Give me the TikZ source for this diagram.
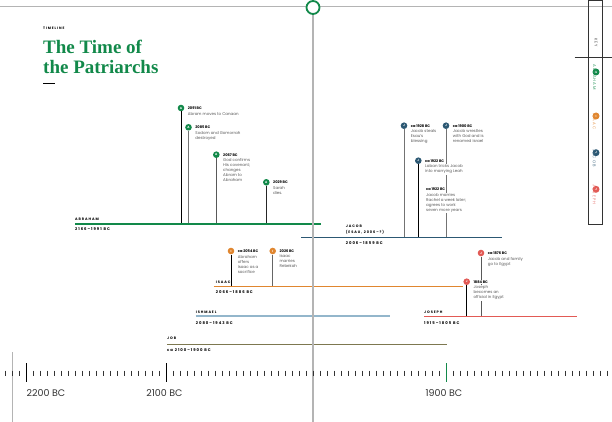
\documentclass[tikz,border=0pt]{standalone}
\usepackage{fontspec}
\setsansfont{Poppins}
\newfontfamily\spacedsf[LetterSpace=26]{Poppins}
\newfontfamily\titleserif{Liberation Serif}
\usetikzlibrary{positioning}

\definecolor{abgreen}{HTML}{12894A}
\definecolor{isorange}{HTML}{E0862F}
\definecolor{jcblue}{HTML}{2C5873}
\definecolor{ishblue}{HTML}{93B6CB}
\definecolor{jobolive}{HTML}{7D7850}
\definecolor{jored}{HTML}{E25A55}
\definecolor{rulegray}{HTML}{B4B4B4}
\definecolor{textgray}{HTML}{5A5A5A}

\tikzset{
  evdot/.style={circle,fill=#1,inner sep=0pt,minimum size=6.6pt,text=white,
    font=\sffamily\bfseries\fontsize{3}{3}\selectfont},
  evdate/.style={inner sep=0.7pt,fill=white,
    font=\sffamily\bfseries\fontsize{3.6}{4}\selectfont},
  evtext/.style={inner sep=0.7pt,fill=white,align=left,text=textgray,
    font=\sffamily\fontsize{4}{5}\selectfont},
  stem/.style={line width=0.9pt,draw=#1},
  life/.style={line width=1.1pt,draw=#1},
  pname/.style={anchor=base west,inner sep=0pt,
    font=\spacedsf\bfseries\fontsize{3.5}{4.6}\selectfont},
  pdate/.style={anchor=base west,inner sep=0pt,
    font=\spacedsf\bfseries\fontsize{3.8}{4.6}\selectfont},
  keyname/.style={rotate=-90,anchor=west,inner sep=0pt,
    font=\spacedsf\fontsize{4}{4.5}\selectfont},
  titleline/.style={anchor=base west,inner sep=0pt,text=abgreen,
    font=\titleserif\bfseries\fontsize{19}{21}\selectfont},
  yearlab/.style={inner sep=0pt,text=black!80,font=\sffamily\fontsize{9.5}{10}\selectfont},
}

\begin{document}
\begin{tikzpicture}[x=1pt,y=-1pt]
  \useasboundingbox (0,0) rectangle (612,422);

  % frame and key
  \draw[rulegray,line width=0.8pt] (0,6) -- (612,6);
  \draw[rulegray,line width=0.8pt] (12,352) -- (12,422);
  \draw[black!80,line width=0.7pt] (588.3,0) rectangle (602.7,224);
  \draw[black!80,line width=0.7pt] (574.7,57.3) -- (612,57.3);
  \node[keyname,text=black!70] (keyhead) at (596,38) {KEY};
  \node[evdot=abgreen,minimum size=7pt] (k1) at (596,72) {A};
  \node[evdot=isorange,minimum size=7pt] (k2) at (596,116) {I};
  \node[evdot=jcblue,minimum size=7pt] (k3) at (596,152.7) {J};
  \node[evdot=jored,minimum size=7pt] (k4) at (596,189.3) {J};
  \node[keyname,text=abgreen!85,below=1.5pt of k1.south] (k1n) {ABRAHAM};
  \node[keyname,text=isorange!85,below=1.5pt of k2.south] (k2n) {ISAAC};
  \node[keyname,text=jcblue!85,below=1.5pt of k3.south] (k3n) {JACOB};
  \node[keyname,text=jored!85,below=1.5pt of k4.south] (k4n) {JOSEPH};

  % title
  \node[anchor=base west,inner sep=0pt,font=\spacedsf\bfseries\fontsize{3.4}{4}\selectfont] (kicker) at (43,29.5) {TIMELINE};
  \node[titleline] (title1) at (43,54) {The Time of};
  \node[titleline] (title2) at (43,73.3) {the Patriarchs};
  \draw[black,line width=0.9pt] (43,83.3) -- (55,83.3);

  % lifelines
  \coordinate (abS) at (75,224);    \coordinate (abE) at (321,224);
  \coordinate (jcS) at (301,237.7); \coordinate (jcE) at (502,237.7);
  \coordinate (isS) at (213.6,286.7); \coordinate (isE) at (463,286.7);
  \coordinate (ishS) at (195.7,316); \coordinate (ishE) at (390,316);
  \coordinate (joS) at (424,316.7); \coordinate (joE) at (577,316.7);
  \coordinate (jbS) at (167,344.3); \coordinate (jbE) at (446.7,344.3);

  % event dots
  \node[evdot=abgreen] (ab1) at (181,108) {A};
  \node[evdot=abgreen] (ab2) at (188.5,127.3) {A};
  \node[evdot=abgreen] (ab3) at (216.3,154.7) {A};
  \node[evdot=abgreen] (ab4) at (266.3,182.3) {A};
  \node[evdot=jcblue] (jc1) at (404,125.7) {J};
  \node[evdot=jcblue] (jc2) at (446,125.7) {J};
  \node[evdot=jcblue] (jc3) at (418.3,160.7) {J};
  \node[evdot=isorange] (is1) at (231,251) {I};
  \node[evdot=isorange] (is2) at (272.7,251) {I};
  \node[evdot=jored] (jo1) at (481,253) {J};
  \node[evdot=jored] (jo2) at (466.7,281.7) {J};

  % stems
  \draw[stem=black] (ab1) -- (ab1 |- abS);
  \draw[stem=black!55] (ab2) -- (ab2 |- abS);
  \draw[stem=black!65] (ab3) -- (ab3 |- abS);
  \draw[stem=black!85] (ab4) -- (ab4 |- abS);
  \draw[stem=black!55] (jc1) -- (jc1 |- jcS);
  \draw[stem=black!55] (jc2) -- (jc2 |- jcS);
  \draw[stem=black] (jc3) -- (jc3 |- jcS);
  \draw[stem=black] (is1) -- (is1 |- isS);
  \draw[stem=black!60] (is2) -- (is2 |- isS);
  \draw[stem=black!65] (jo1) -- (jo1 |- joS);
  \draw[stem=black] (jo2) -- (jo2 |- joS);

  % event texts
  \node[evdate,right=2.5pt of ab1] (ab1d) {2091 BC};
  \node[evtext,below=1pt of ab1d.south west,anchor=north west] (ab1t) {Abram moves to Canaan};
  \node[evdate,right=2.5pt of ab2] (ab2d) {2085 BC};
  \node[evtext,below=1pt of ab2d.south west,anchor=north west] (ab2t) {Sodom and Gomorrah\\destroyed};
  \node[evdate,right=2.5pt of ab3] (ab3d) {2067 BC};
  \node[evtext,below=1pt of ab3d.south west,anchor=north west] (ab3t) {God confirms\\His covenant;\\changes\\Abram to\\Abraham};
  \node[evdate,right=2.5pt of ab4] (ab4d) {2029 BC};
  \node[evtext,below=1pt of ab4d.south west,anchor=north west] (ab4t) {Sarah\\dies.};

  \node[evdate,right=2.5pt of jc1] (jc1d) {ca 1928 BC};
  \node[evtext,below=1pt of jc1d.south west,anchor=north west] (jc1t) {Jacob steals\\Esau's\\blessing};
  \node[evdate,right=2.5pt of jc2] (jc2d) {ca 1900 BC};
  \node[evtext,below=1pt of jc2d.south west,anchor=north west] (jc2t) {Jacob wrestles\\with God and is\\renamed Israel};
  \node[evdate,right=2.5pt of jc3] (jc3d) {ca 1922 BC};
  \node[evtext,below=1pt of jc3d.south west,anchor=north west] (jc3t) {Laban tricks Jacob\\into marrying Leah};
  \node[evdate,anchor=west] (jc4d) at (425.3,189.3) {ca 1922 BC};
  \node[evtext,below=1pt of jc4d.south west,anchor=north west] (jc4t) {Jacob marries\\Rachel a week later;\\agrees to work\\seven more years};

  \node[evdate,right=2.5pt of is1] (is1d) {ca 2054 BC};
  \node[evtext,below=1pt of is1d.south west,anchor=north west] (is1t) {Abraham\\offers\\Isaac as a\\sacrifice};
  \node[evdate,right=2.5pt of is2] (is2d) {2026 BC};
  \node[evtext,below=1pt of is2d.south west,anchor=north west] (is2t) {Isaac\\marries\\Rebekah};

  \node[evdate,right=2.5pt of jo1] (jo1d) {ca 1876 BC};
  \node[evtext,below=1pt of jo1d.south west,anchor=north west] (jo1t) {Jacob and family\\go to Egypt};
  \node[evdate,right=2.5pt of jo2] (jo2d) {1884 BC};
  \node[evtext,below=1pt of jo2d.south west,anchor=north west] (jo2t) {Joseph\\becomes an\\official in Egypt};

  % lifelines and labels
  \draw[life=abgreen] (abS) -- (abE);
  \draw[life=jcblue] (jcS) -- (jcE);
  \draw[life=isorange] (isS) -- (isE);
  \draw[life=ishblue] (ishS) -- (ishE);
  \draw[life=jored] (joS) -- (joE);
  \draw[life=jobolive] (jbS) -- (jbE);

  \node[pname] (abn) at (75,220.5) {ABRAHAM};
  \node[pdate] (abd) at (75,230.7) {2166–1991 BC};
  \node[pname] (jcn) at (345.7,227.5) {JACOB};
  \node[pname] (jce) at (345.7,233.9) {(ESAU, 2006–?)};
  \node[pdate] (jcd) at (345.7,244.6) {2006–1859 BC};
  \node[pname] (isn) at (215.7,283) {ISAAC};
  \node[pdate] (isd) at (215.7,293) {2066–1886 BC};
  \node[pname] (ishn) at (195.7,313.2) {ISHMAEL};
  \node[pdate] (ishd) at (195.7,324) {2080–1943 BC};
  \node[pname] (jon) at (424,313.2) {JOSEPH};
  \node[pdate] (jod) at (424,324) {1915–1805 BC};
  \node[pname] (jbn) at (167,339.5) {JOB};
  \node[pdate] (jbd) at (167,351.3) {ca 2100–1900 BC};

  % centre rule
  \node[circle,draw=abgreen,fill=white,line width=1.8pt,minimum size=13pt,inner sep=0pt] (pin) at (313,7.5) {};
  \draw[rulegray,line width=1.3pt] (pin) -- (313,422);

  % axis
  \foreach \k in {-3,...,83}
    \draw[black!80,line width=0.6pt] (26+7*\k,370.5) -- (26+7*\k,376);
  \draw[black,line width=0.8pt] (26,363) -- (26,382);
  \draw[black,line width=0.8pt] (166,363) -- (166,382);
  \draw[abgreen,line width=0.8pt] (446,363) -- (446,382);
  \node[yearlab,anchor=west] (l2200) at (26.5,393) {2200 BC};
  \node[yearlab] (l2100) at (164.5,393) {2100 BC};
  \node[yearlab] (l1900) at (444,393) {1900 BC};
\end{tikzpicture}
\end{document}
